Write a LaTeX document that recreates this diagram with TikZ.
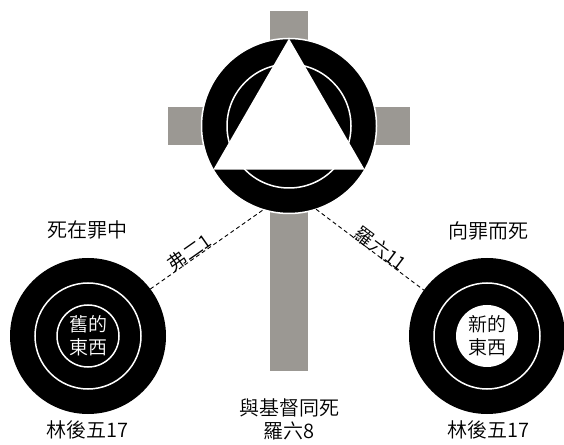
\documentclass[tikz,border=0pt]{standalone}
\usepackage{fontspec}
\setmainfont{Noto Sans CJK TC}[UprightFont={* DemiLight}]
\definecolor{crossgrey}{RGB}{155,152,147}
\tikzset{
  disc/.style={circle, fill=black, draw=white, line width=1.5pt, inner sep=0pt, outer sep=0pt},
  ringline/.style={white, line width=1.5pt},
  core/.style={circle, minimum size=62pt, inner sep=0pt, outer sep=0pt, align=center,
    font=\fontsize{19}{23}\selectfont},
  caption/.style={font=\fontsize{20}{23}\selectfont, align=center},
  verse/.style={font=\fontsize{19}{22}\selectfont, sloped, inner sep=1pt},
  link/.style={dash pattern=on 4pt off 3pt, line width=0.9pt}
}
\begin{document}
\begin{tikzpicture}[x=1pt, y=1pt]
    \useasboundingbox (0,0) rectangle (564,444);

    % Cross
    \fill[crossgrey] (270,73) rectangle (308,433);
    \fill[crossgrey] (168,299) rectangle (410,337);

    % Circle with the triangle
    \node[disc, minimum size=175pt] (christ) at (289,318) {};
    \draw[ringline] (christ.center) circle (62);
    \fill[white] (christ.90) -- (christ.210) -- (christ.330) -- cycle;

    % Old target
    \node[disc, minimum size=156pt, draw=none] (old) at (88,108) {};
    \draw[ringline] (old.center) circle (53);
    \node[core, draw=white, line width=1.5pt, text=white] (oldcore) at (old.center) {舊的\\東西};

    % New target
    \node[disc, minimum size=156pt, draw=none] (new) at (487,108) {};
    \draw[ringline] (new.center) circle (53);
    \node[core, fill=white, text=black] (newcore) at (new.center) {新的\\東西};

    % Links
    \draw[link] (old.37) -- node[verse, pos=0.38, above=-3pt] (phil) {弗二1} (christ.253);
    \draw[link] (christ.288) -- node[verse, pos=0.56, above=-3pt] (rom) {羅六11} (new.144);

    % Captions
    \node[caption] (deadin) at (87,214) {死在罪中};
    \node[caption] (deadto) at (488,213) {向罪而死};
    \node[caption] (oldref) at (87,14) {林後五17};
    \node[caption] (newref) at (488,14) {林後五17};
    \node[caption] (withchrist) at (289,25) {與基督同死\\羅六8};

\end{tikzpicture}
\end{document}
